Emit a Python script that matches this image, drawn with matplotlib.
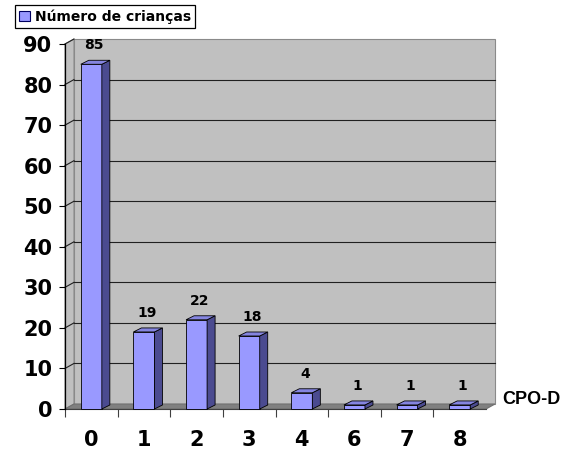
import matplotlib
matplotlib.use('Agg')
import matplotlib.pyplot as plt
from matplotlib.patches import Polygon, Rectangle, Patch
import numpy as np

categories = ['0', '1', '2', '3', '4', '6', '7', '8']
counts = [85, 19, 22, 18, 4, 1, 1, 1]
y_ticks = list(range(0, 91, 10))
series_name = 'Número de crianças'
axis_title = 'CPO-D'

W, H = 569, 450
fig = plt.figure(figsize=(W / 100, H / 100), dpi=100)
fig.patch.set_facecolor('white')
ax = fig.add_axes([65 / W, 41 / H, 421 / W, 365 / H])
n = len(categories)
ax.set_xlim(0, n)
ax.set_ylim(0, 90)
ax.patch.set_visible(False)

DX, DY = 9, 5      # wall depth in pixels
BDX, BDY = 8, 4    # bar depth in pixels


def off(x, y, dx, dy):
    px = ax.transData.transform((x, y))
    return tuple(ax.transData.inverted().transform(px + np.array([dx, dy])))


def poly(pts, **kw):
    p = Polygon(pts, closed=True, clip_on=False, **kw)
    ax.add_patch(p)
    return p


wall_c = '#c0c0c0'
# back wall
poly([off(0, 0, DX, DY), off(n, 0, DX, DY), off(n, 90, DX, DY), off(0, 90, DX, DY)],
     facecolor=wall_c, edgecolor='#8a8a8a', lw=0.8, zorder=0)
# side wall
poly([(0, 0), off(0, 0, DX, DY), off(0, 90, DX, DY), (0, 90)],
     facecolor=wall_c, edgecolor='#8a8a8a', lw=0.8, zorder=0.1)
# floor
poly([(0, 0), (n, 0), off(n, 0, DX, DY), off(0, 0, DX, DY)],
     facecolor='#808080', edgecolor='#707070', lw=0.8, zorder=0.2)

# gridlines
for v in y_ticks[1:]:
    bx, by = off(0, v, DX, DY)
    ax.plot([0, bx], [v, by], color='#202020', lw=0.8, clip_on=False, zorder=0.3)
    if v < 90:
        ex, ey = off(n, v, DX, DY)
        ax.plot([bx, ex], [by, ey], color='#202020', lw=0.8, clip_on=False, zorder=0.3)

front_c = '#9999ff'
side_c = '#4b4b90'
top_c = '#8585e0'
for i, v in enumerate(counts):
    x0, x1 = i + 0.3, i + 0.7
    ax.add_patch(Rectangle((x0, 0), x1 - x0, v, facecolor=front_c, edgecolor='black',
                           lw=0.6, zorder=2, clip_on=False))
    poly([(x1, 0), (x1, v), off(x1, v, BDX, BDY), off(x1, 0, BDX, BDY)],
         facecolor=side_c, edgecolor='black', lw=0.6, zorder=2)
    poly([(x0, v), (x1, v), off(x1, v, BDX, BDY), off(x0, v, BDX, BDY)],
         facecolor=top_c, edgecolor='black', lw=0.6, zorder=2)
    ax.annotate(str(v), (i + 0.5, v), xytext=(3, 19), textcoords='offset pixels',
                ha='center', va='center', fontsize=10, fontweight='bold', zorder=3)

for s in ['top', 'right', 'bottom']:
    ax.spines[s].set_visible(False)
ax.spines['left'].set_color('black')
ax.spines['left'].set_linewidth(0.9)
ax.plot([0, n], [0, 0], color='#404040', lw=0.8, clip_on=False, zorder=1)

ax.set_yticks(y_ticks)
ax.set_yticklabels([str(t) for t in y_ticks], fontsize=15, fontweight='bold')
ax.tick_params(axis='y', length=4, width=0.8, pad=5)

ax.set_xticks(range(0, n))
ax.set_xticklabels([''] * n)
ax.tick_params(axis='x', which='major', length=6, width=0.8, color='#404040')
ax.set_xticks(np.arange(n) + 0.5, minor=True)
ax.set_xticklabels(categories, minor=True, fontsize=15, fontweight='bold')
ax.tick_params(axis='x', which='minor', length=0, pad=15)

fig.text(502 / W, 1 - 400 / H, axis_title, ha='left', va='center',
         family='Liberation Sans', fontweight='bold', fontsize=13)

leg = fig.legend(handles=[Patch(facecolor=front_c, edgecolor='#000060', lw=0.8)],
                 labels=[series_name], loc='upper left',
                 bbox_to_anchor=(15 / W, 1 - 5 / H), frameon=True, fancybox=False,
                 framealpha=1, edgecolor='black', borderpad=0.3, borderaxespad=0,
                 handlelength=0.8, handleheight=0.8, handletextpad=0.35,
                 prop=dict(weight='bold', size=10))
leg.get_frame().set_linewidth(0.9)

fig.savefig('out.png', dpi=100)
